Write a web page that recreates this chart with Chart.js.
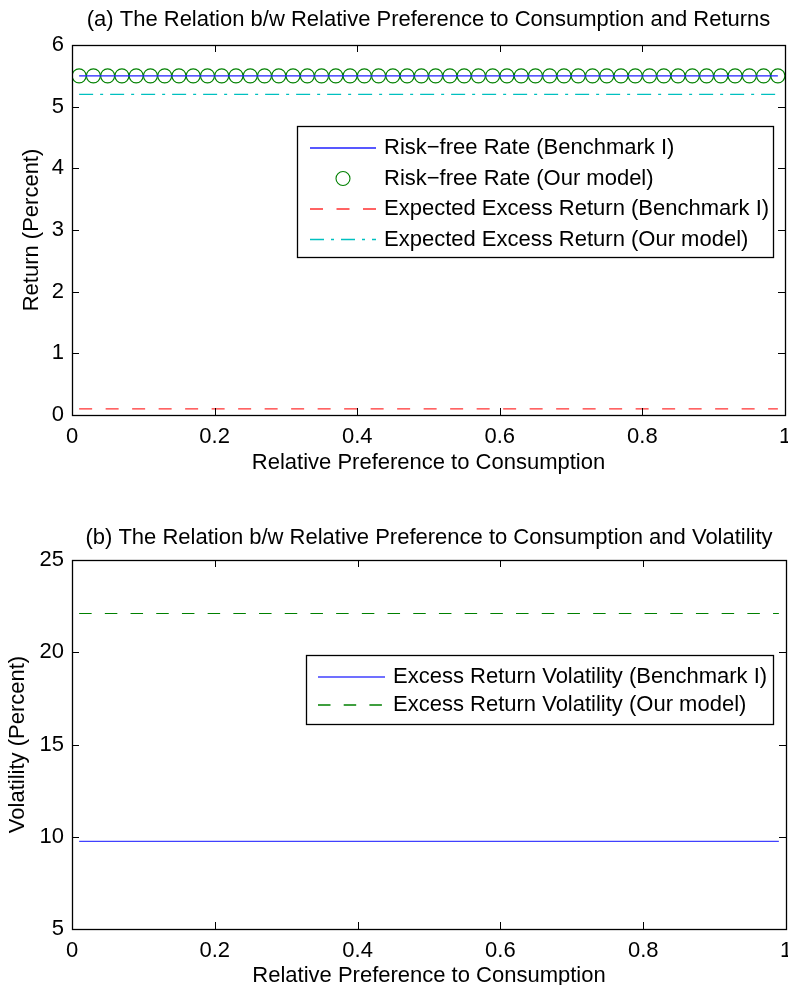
<!DOCTYPE html>
<html>
<head>
<meta charset="utf-8">
<script src="https://cdn.jsdelivr.net/npm/chart.js@4.4.1/dist/chart.umd.min.js"></script>
<style>
  html, body { margin: 0; padding: 0; background: #fff; overflow: hidden; }
  #wrap { position: relative; width: 788px; height: 985px; overflow: hidden; }
  .pane { position: absolute; left: 0; width: 788px; }
  #p1 { top: 0; height: 492px; }
  #p2 { top: 492px; height: 500px; }
</style>
</head>
<body>
<div id="wrap">
  <div class="pane" id="p1"><canvas id="c1" width="788" height="492"></canvas></div>
  <div class="pane" id="p2"><canvas id="c2" width="788" height="500"></canvas></div>
</div>
<script>
// ---------------- data ----------------
const relPref = [0.01,0.03,0.05,0.07,0.09,0.11,0.13,0.15,0.17,0.19,
                 0.21,0.23,0.25,0.27,0.29,0.31,0.33,0.35,0.37,0.39,
                 0.41,0.43,0.45,0.47,0.49,0.51,0.53,0.55,0.57,0.59,
                 0.61,0.63,0.65,0.67,0.69,0.71,0.73,0.75,0.77,0.79,
                 0.81,0.83,0.85,0.87,0.89,0.91,0.93,0.95,0.97,0.99];

const riskFreeBench = [5.5,5.5,5.5,5.5,5.5,5.5,5.5,5.5,5.5,5.5,
                       5.5,5.5,5.5,5.5,5.5,5.5,5.5,5.5,5.5,5.5,
                       5.5,5.5,5.5,5.5,5.5,5.5,5.5,5.5,5.5,5.5,
                       5.5,5.5,5.5,5.5,5.5,5.5,5.5,5.5,5.5,5.5,
                       5.5,5.5,5.5,5.5,5.5,5.5,5.5,5.5,5.5,5.5];
const riskFreeOur =   [5.5,5.5,5.5,5.5,5.5,5.5,5.5,5.5,5.5,5.5,
                       5.5,5.5,5.5,5.5,5.5,5.5,5.5,5.5,5.5,5.5,
                       5.5,5.5,5.5,5.5,5.5,5.5,5.5,5.5,5.5,5.5,
                       5.5,5.5,5.5,5.5,5.5,5.5,5.5,5.5,5.5,5.5,
                       5.5,5.5,5.5,5.5,5.5,5.5,5.5,5.5,5.5,5.5];
const excessBench =   [0.1,0.1,0.1,0.1,0.1,0.1,0.1,0.1,0.1,0.1,
                       0.1,0.1,0.1,0.1,0.1,0.1,0.1,0.1,0.1,0.1,
                       0.1,0.1,0.1,0.1,0.1,0.1,0.1,0.1,0.1,0.1,
                       0.1,0.1,0.1,0.1,0.1,0.1,0.1,0.1,0.1,0.1,
                       0.1,0.1,0.1,0.1,0.1,0.1,0.1,0.1,0.1,0.1];
const excessOur =     [5.2,5.2,5.2,5.2,5.2,5.2,5.2,5.2,5.2,5.2,
                       5.2,5.2,5.2,5.2,5.2,5.2,5.2,5.2,5.2,5.2,
                       5.2,5.2,5.2,5.2,5.2,5.2,5.2,5.2,5.2,5.2,
                       5.2,5.2,5.2,5.2,5.2,5.2,5.2,5.2,5.2,5.2,
                       5.2,5.2,5.2,5.2,5.2,5.2,5.2,5.2,5.2,5.2];
const volBench =      [9.75,9.75,9.75,9.75,9.75,9.75,9.75,9.75,9.75,9.75,
                       9.75,9.75,9.75,9.75,9.75,9.75,9.75,9.75,9.75,9.75,
                       9.75,9.75,9.75,9.75,9.75,9.75,9.75,9.75,9.75,9.75,
                       9.75,9.75,9.75,9.75,9.75,9.75,9.75,9.75,9.75,9.75,
                       9.75,9.75,9.75,9.75,9.75,9.75,9.75,9.75,9.75,9.75];
const volOur =        [22.1,22.1,22.1,22.1,22.1,22.1,22.1,22.1,22.1,22.1,
                       22.1,22.1,22.1,22.1,22.1,22.1,22.1,22.1,22.1,22.1,
                       22.1,22.1,22.1,22.1,22.1,22.1,22.1,22.1,22.1,22.1,
                       22.1,22.1,22.1,22.1,22.1,22.1,22.1,22.1,22.1,22.1,
                       22.1,22.1,22.1,22.1,22.1,22.1,22.1,22.1,22.1,22.1];

const xTickLabels = ['0','0.2','0.4','0.6','0.8','1'];
const yTickLabelsA = ['0','1','2','3','4','5','6'];
const yTickLabelsB = ['5','10','15','20','25'];

const labelsA = ['Risk\u2212free Rate (Benchmark I)','Risk\u2212free Rate (Our model)',
                 'Expected Excess Return (Benchmark I)','Expected Excess Return (Our model)'];
const labelsB = ['Excess Return Volatility (Benchmark I)','Excess Return Volatility (Our model)'];

// ---------------- helpers ----------------
const FONT = "'Liberation Sans', Arial, Helvetica, sans-serif";
const FS = 22;
Chart.defaults.color = '#000';
Chart.defaults.font.family = FONT;
Chart.defaults.font.size = FS;

const pts = ys => relPref.map((x, i) => ({x: x, y: ys[i]}));

const boxTicks = {
  id: 'boxTicks',
  afterDraw(chart) {
    const ctx = chart.ctx, a = chart.chartArea;
    const xs = chart.scales.x, ys = chart.scales.y;
    const L = 7;
    ctx.save();
    ctx.strokeStyle = '#000';
    ctx.lineWidth = 1;
    ctx.beginPath();
    xs.ticks.forEach(t => {
      const px = Math.round(xs.getPixelForValue(t.value)) + 0.5;
      ctx.moveTo(px, a.bottom); ctx.lineTo(px, a.bottom - L);
      ctx.moveTo(px, a.top); ctx.lineTo(px, a.top + L);
    });
    ys.ticks.forEach(t => {
      const py = Math.round(ys.getPixelForValue(t.value)) + 0.5;
      ctx.moveTo(a.left, py); ctx.lineTo(a.left + L, py);
      ctx.moveTo(a.right, py); ctx.lineTo(a.right - L, py);
    });
    ctx.stroke();
    ctx.lineWidth = 1.3;
    ctx.strokeRect(Math.round(a.left) + 0.5, Math.round(a.top) + 0.5,
                   Math.round(a.right - a.left), Math.round(a.bottom - a.top));
    ctx.restore();
  }
};

const boxLegend = {
  id: 'boxLegend',
  afterDraw(chart, args, opts) {
    const ctx = chart.ctx;
    ctx.save();
    ctx.fillStyle = '#fff';
    ctx.fillRect(opts.x, opts.y, opts.w, opts.h);
    ctx.strokeStyle = '#000';
    ctx.lineWidth = 1.3;
    ctx.strokeRect(opts.x + 0.5, opts.y + 0.5, opts.w, opts.h);
    ctx.font = FS + 'px ' + FONT;
    ctx.textBaseline = 'middle';
    ctx.textAlign = 'left';
    chart.data.datasets.forEach((ds, i) => {
      const cy = opts.rowY[i];
      const col = ds.borderColor;
      if (ds.showLine === false) {
        ctx.beginPath();
        ctx.setLineDash([]);
        ctx.strokeStyle = col;
        ctx.lineWidth = 1.1;
        ctx.arc((opts.s0 + opts.s1) / 2, cy, ds.pointRadius, 0, Math.PI * 2);
        ctx.stroke();
      } else {
        ctx.beginPath();
        ctx.setLineDash(ds.borderDash || []);
        ctx.strokeStyle = col;
        ctx.lineWidth = 1.4;
        ctx.moveTo(opts.s0, cy);
        ctx.lineTo(opts.s1, cy);
        ctx.stroke();
      }
      ctx.setLineDash([]);
      ctx.fillStyle = '#000';
      ctx.fillText(ds.label, opts.tx, cy);
    });
    ctx.restore();
  }
};

function makeOptions(cfg) {
  return {
    responsive: false,
    animation: false,
    devicePixelRatio: 1,
    layout: { autoPadding: false, padding: { left: 0, right: cfg.padRight, top: 0, bottom: 0 } },
    plugins: {
      legend: { display: false },
      tooltip: { enabled: false },
      title: {
        display: true, text: cfg.title, fullSize: false,
        color: '#000', font: { size: FS, weight: 'normal', family: FONT },
        padding: { top: cfg.titleTop, bottom: cfg.titleBottom }
      },
      boxLegend: cfg.legend
    },
    scales: {
      x: {
        type: 'linear', min: 0, max: 1,
        grid: { display: false, drawTicks: false },
        border: { display: false },
        ticks: { stepSize: 0.2, padding: 9, maxRotation: 0, autoSkip: false,
                 font: { size: FS }, color: '#000',
                 callback: (v, i) => xTickLabels[i] },
        title: { display: true, text: 'Relative Preference to Consumption',
                 font: { size: FS }, color: '#000',
                 padding: { top: 0, bottom: cfg.xTitlePad } },
        afterFit: s => { s.height = cfg.xHeight; s.paddingLeft = 0; s.paddingRight = 0; }
      },
      y: {
        type: 'linear', min: cfg.yMin, max: cfg.yMax,
        grid: { display: false, drawTicks: false },
        border: { display: false },
        ticks: { stepSize: cfg.yStep, padding: 8, autoSkip: false,
                 font: { size: FS }, color: '#000',
                 callback: (v, i) => cfg.yLabels[i] },
        title: { display: true, text: cfg.yTitle,
                 font: { size: FS }, color: '#000',
                 padding: { top: cfg.yTitlePad, bottom: 0 } },
        afterFit: s => { s.width = 72; s.paddingTop = 0; s.paddingBottom = 0; }
      }
    }
  };
}

// ---------------- chart (a) ----------------
new Chart(document.getElementById('c1'), {
  type: 'line',
  data: {
    datasets: [
      { label: labelsA[0], data: pts(riskFreeBench), borderColor: '#2020ff',
        borderWidth: 1.2, pointRadius: 0, fill: false, tension: 0 },
      { label: labelsA[1], data: pts(riskFreeOur), showLine: false, borderColor: '#008000',
        backgroundColor: 'rgba(0,0,0,0)', pointStyle: 'circle', pointRadius: 7,
        pointBorderWidth: 1.1, pointBorderColor: '#008000', pointBackgroundColor: 'rgba(0,0,0,0)' },
      { label: labelsA[2], data: pts(excessBench), borderColor: '#ff3030',
        borderWidth: 1.2, borderDash: [13, 13.5], pointRadius: 0, fill: false, tension: 0 },
      { label: labelsA[3], data: pts(excessOur), borderColor: '#00c0c0',
        borderWidth: 1.2, borderDash: [14, 7, 3, 7], pointRadius: 0, fill: false, tension: 0 }
    ]
  },
  options: makeOptions({
    title: '(a) The Relation b/w Relative Preference to Consumption and Returns',
    padRight: 3, titleTop: 7, titleBottom: 11.6,
    xHeight: 77, xTitlePad: 15.8,
    yMin: 0, yMax: 6, yStep: 1, yLabels: yTickLabelsA,
    yTitle: 'Return (Percent)', yTitlePad: 18.8,
    legend: { x: 297, y: 126, w: 476, h: 131, s0: 310, s1: 376, tx: 384,
              rowY: [148, 178.5, 209, 239.5] }
  }),
  plugins: [boxTicks, boxLegend]
});

// ---------------- chart (b) ----------------
new Chart(document.getElementById('c2'), {
  type: 'line',
  data: {
    datasets: [
      { label: labelsB[0], data: pts(volBench), borderColor: '#4040ff',
        borderWidth: 1.2, pointRadius: 0, fill: false, tension: 0 },
      { label: labelsB[1], data: pts(volOur), borderColor: '#008000',
        borderWidth: 1.2, borderDash: [12.5, 13.2], pointRadius: 0, fill: false, tension: 0 }
    ]
  },
  options: makeOptions({
    title: '(b) The Relation b/w Relative Preference to Consumption and Volatility',
    padRight: 2, titleTop: 33, titleBottom: 8.6,
    xHeight: 63, xTitlePad: 3.2,
    yMin: 5, yMax: 25, yStep: 5, yLabels: yTickLabelsB,
    yTitle: 'Volatility (Percent)', yTitlePad: 4.8,
    legend: { x: 306, y: 163, w: 467, h: 69, s0: 318, s1: 385, tx: 393,
              rowY: [185, 213] }
  }),
  plugins: [boxTicks, boxLegend]
});
</script>
</body>
</html>
